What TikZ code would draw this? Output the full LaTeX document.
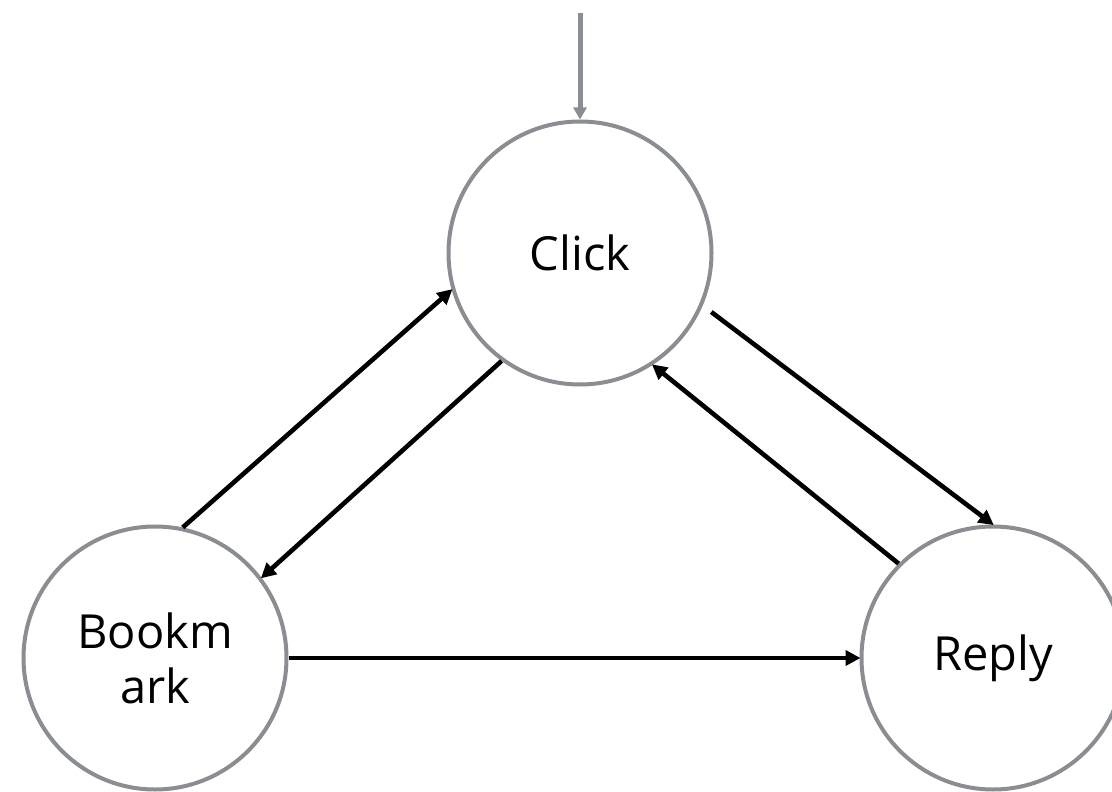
\documentclass[tikz,border=0pt]{standalone}
\usepackage{fontspec}
\setmainfont{Open Sans}
\usetikzlibrary{arrows.meta,calc}
\definecolor{ringgray}{RGB}{138,141,145}
\begin{document}
\begin{tikzpicture}[x=1pt,y=-1pt,
  state/.style={circle,draw=ringgray,line width=4pt,minimum size=263pt,inner sep=0pt,
    font=\fontsize{47}{55}\selectfont,align=center,text=black},
  conn/.style={line width=4.6pt,black,-{Triangle[length=15pt,width=15pt]},shorten >=-1pt},
  entry/.style={line width=5pt,ringgray,-{Triangle[length=12pt,width=13pt]}}]
\useasboundingbox (0,0) rectangle (1112,792);
\node[state] (click) at (580,253) {Click};
\node[state] (book) at (155,658) {Bookm\\ark};
\node[state] (reply) at (993,658) {Reply};
\coordinate (top) at (580,13);
\draw[entry] (top) -- (click.north);
\draw[conn] (book.78) -- (click.196);
\draw[conn] (click.234) -- (book.37);
\draw[conn] ($(click.center)+(24.2:144)$) -- (reply.north);
\draw[conn] (reply.135) -- (click.303);
\draw[conn] (book.east) -- (reply.west);
\end{tikzpicture}
\end{document}
